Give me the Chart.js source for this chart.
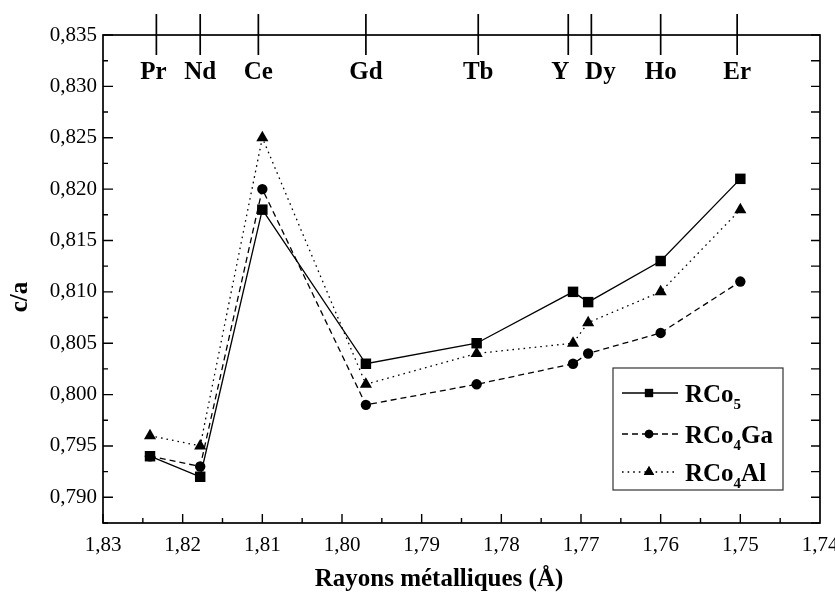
<!DOCTYPE html>
<html>
<head>
<meta charset="utf-8">
<script src="https://cdn.jsdelivr.net/npm/chart.js@4"></script>
<style>
  body { margin: 0; background: #fff; }
  canvas { display: block; }
</style>
</head>
<body>
<canvas id="chart" width="835" height="594"></canvas>
<script>
// rayons métalliques des terres rares (axe haut)
const elements = ['Pr', 'Nd', 'Ce', 'Gd', 'Tb', 'Y', 'Dy', 'Ho', 'Er'];
const elementRadii = [1.8233, 1.8178, 1.8105, 1.797, 1.7829, 1.7716, 1.7687, 1.760, 1.7504];

// positions des points (x) et c/a
const radii = [1.8241, 1.8178, 1.810, 1.797, 1.7831, 1.771, 1.7691, 1.760, 1.750];
const rco5 = [0.794, 0.792, 0.818, 0.803, 0.805, 0.810, 0.809, 0.813, 0.821];
const rco4ga = [0.794, 0.793, 0.820, 0.799, 0.801, 0.803, 0.804, 0.806, 0.811];
const rco4al = [0.796, 0.795, 0.825, 0.801, 0.804, 0.805, 0.807, 0.810, 0.818];

const xTicks = [1.83, 1.82, 1.81, 1.80, 1.79, 1.78, 1.77, 1.76, 1.75, 1.74];
const yTicks = [0.790, 0.795, 0.800, 0.805, 0.810, 0.815, 0.820, 0.825, 0.830, 0.835];

const SERIF = '"Liberation Serif", "Times New Roman", "DejaVu Serif", serif';
// décalage horizontal des étiquettes d'éléments (Y et Dy sont serrés)
const labelShift = { Pr: -3, Y: -8, Dy: 9 };

const series = [
  { name: 'RCo', sub: '5', tail: '', data: rco5, style: 'rect', r: 7.4, lr: 5.8, dash: [] },
  { name: 'RCo', sub: '4', tail: 'Ga', data: rco4ga, style: 'circle', r: 5.2, lr: 4.3, dash: [6, 4] },
  { name: 'RCo', sub: '4', tail: 'Al', data: rco4al, style: 'triangle', r: 7, lr: 6, dash: [1.6, 4] },
];

const pts = arr => arr.map((v, i) => ({ x: radii[i], y: v }));

const decor = {
  id: 'decor',
  afterDraw(chart) {
    const { ctx, chartArea: a, scales: { x, y } } = chart;
    ctx.save();
    ctx.strokeStyle = '#000';
    ctx.fillStyle = '#000';

    // cadre
    ctx.lineWidth = 1.7;
    ctx.strokeRect(a.left, a.top, a.right - a.left, a.bottom - a.top);

    // graduations vers l'intérieur
    ctx.lineWidth = 1.4;
    ctx.beginPath();
    for (let i = 0; i < xTicks.length - 1; i++) {
      const xm = x.getPixelForValue(xTicks[i]);
      const xn = x.getPixelForValue((xTicks[i] + xTicks[i + 1]) / 2);
      ctx.moveTo(xm, a.bottom); ctx.lineTo(xm, a.bottom - 9);
      ctx.moveTo(xn, a.bottom); ctx.lineTo(xn, a.bottom - 5);
    }
    for (let i = 0; i < yTicks.length; i++) {
      const ym = y.getPixelForValue(yTicks[i]);
      ctx.moveTo(a.left, ym); ctx.lineTo(a.left + 10, ym);
      ctx.moveTo(a.right, ym); ctx.lineTo(a.right - 9, ym);
      const yn = y.getPixelForValue(yTicks[i] - 0.0025);
      ctx.moveTo(a.left, yn); ctx.lineTo(a.left + 5, yn);
      ctx.moveTo(a.right, yn); ctx.lineTo(a.right - 9, yn);
    }
    ctx.stroke();

    // éléments sur l'axe du haut
    ctx.lineWidth = 1.7;
    ctx.font = 'bold 25px ' + SERIF;
    ctx.textAlign = 'center';
    ctx.textBaseline = 'alphabetic';
    elements.forEach((el, i) => {
      const px = x.getPixelForValue(elementRadii[i]);
      ctx.beginPath();
      ctx.moveTo(px, a.top - 21); ctx.lineTo(px, a.top + 20);
      ctx.stroke();
      ctx.fillText(el, px + (labelShift[el] || 0), a.top + 44);
    });

    // titres des axes
    ctx.font = 'bold 25px ' + SERIF;
    ctx.textBaseline = 'middle';
    ctx.fillText('Rayons métalliques (Å)', 439, 580);
    ctx.save();
    ctx.translate(21, 297);
    ctx.rotate(-Math.PI / 2);
    ctx.fillText('c/a', 0, 0);
    ctx.restore();

    // légende
    const bx = 613, by = 368, bw = 170, bh = 122;
    ctx.fillStyle = '#fff';
    ctx.fillRect(bx, by, bw, bh);
    ctx.strokeStyle = '#333';
    ctx.lineWidth = 1.2;
    ctx.strokeRect(bx, by, bw, bh);
    ctx.strokeStyle = '#000';
    ctx.fillStyle = '#000';
    const rows = [393, 434, 472];
    series.forEach((s, i) => {
      const ry = rows[i];
      ctx.lineWidth = 1.3;
      ctx.setLineDash(s.dash);
      ctx.beginPath();
      ctx.moveTo(622, ry); ctx.lineTo(678, ry);
      ctx.stroke();
      ctx.setLineDash([]);
      Chart.helpers.drawPoint(ctx, { pointStyle: s.style, radius: s.lr, rotation: 0, borderWidth: 0 }, 649, ry);
      ctx.fill();
      ctx.textAlign = 'left';
      ctx.textBaseline = 'alphabetic';
      ctx.font = 'bold 25px ' + SERIF;
      let tx = 685;
      ctx.fillText(s.name, tx, ry + 9);
      tx += ctx.measureText(s.name).width;
      ctx.font = 'bold 15px ' + SERIF;
      ctx.fillText(s.sub, tx, ry + 16);
      tx += ctx.measureText(s.sub).width;
      ctx.font = 'bold 25px ' + SERIF;
      ctx.fillText(s.tail, tx, ry + 9);
    });
    ctx.restore();
  }
};

new Chart(document.getElementById('chart'), {
  type: 'scatter',
  data: {
    datasets: series.map(s => ({
      label: s.name + s.sub + s.tail,
      data: pts(s.data),
      showLine: true,
      borderColor: '#000',
      backgroundColor: '#000',
      borderWidth: 1.3,
      borderDash: s.dash,
      pointStyle: s.style,
      pointRadius: s.r,
      pointHoverRadius: s.r,
      pointBorderWidth: 0,
      tension: 0,
    })),
  },
  options: {
    responsive: false,
    devicePixelRatio: 1,
    animation: false,
    events: [],
    layout: { padding: { left: 0, right: 15, top: 35, bottom: 0 } },
    plugins: { legend: { display: false }, tooltip: { enabled: false } },
    scales: {
      x: {
        type: 'linear',
        reverse: true,
        min: 1.74,
        max: 1.83,
        grid: { display: false, drawTicks: false },
        border: { display: false },
        afterBuildTicks: s => { s.ticks = xTicks.map(v => ({ value: v })); },
        afterFit: s => { s.height = 71; s.paddingLeft = 0; s.paddingRight = 0; },
        ticks: {
          padding: 10,
          color: '#000',
          font: { family: SERIF, size: 21 },
          callback: v => v.toFixed(2).replace('.', ','),
        },
      },
      y: {
        min: 0.7875,
        max: 0.835,
        grid: { display: false, drawTicks: false },
        border: { display: false },
        afterBuildTicks: s => { s.ticks = yTicks.map(v => ({ value: v })); },
        afterFit: s => { s.width = 103; s.paddingTop = 0; s.paddingBottom = 0; },
        ticks: {
          padding: 6,
          color: '#000',
          font: { family: SERIF, size: 21 },
          callback: v => v.toFixed(3).replace('.', ','),
        },
      },
    },
  },
  plugins: [decor],
});
</script>
</body>
</html>
